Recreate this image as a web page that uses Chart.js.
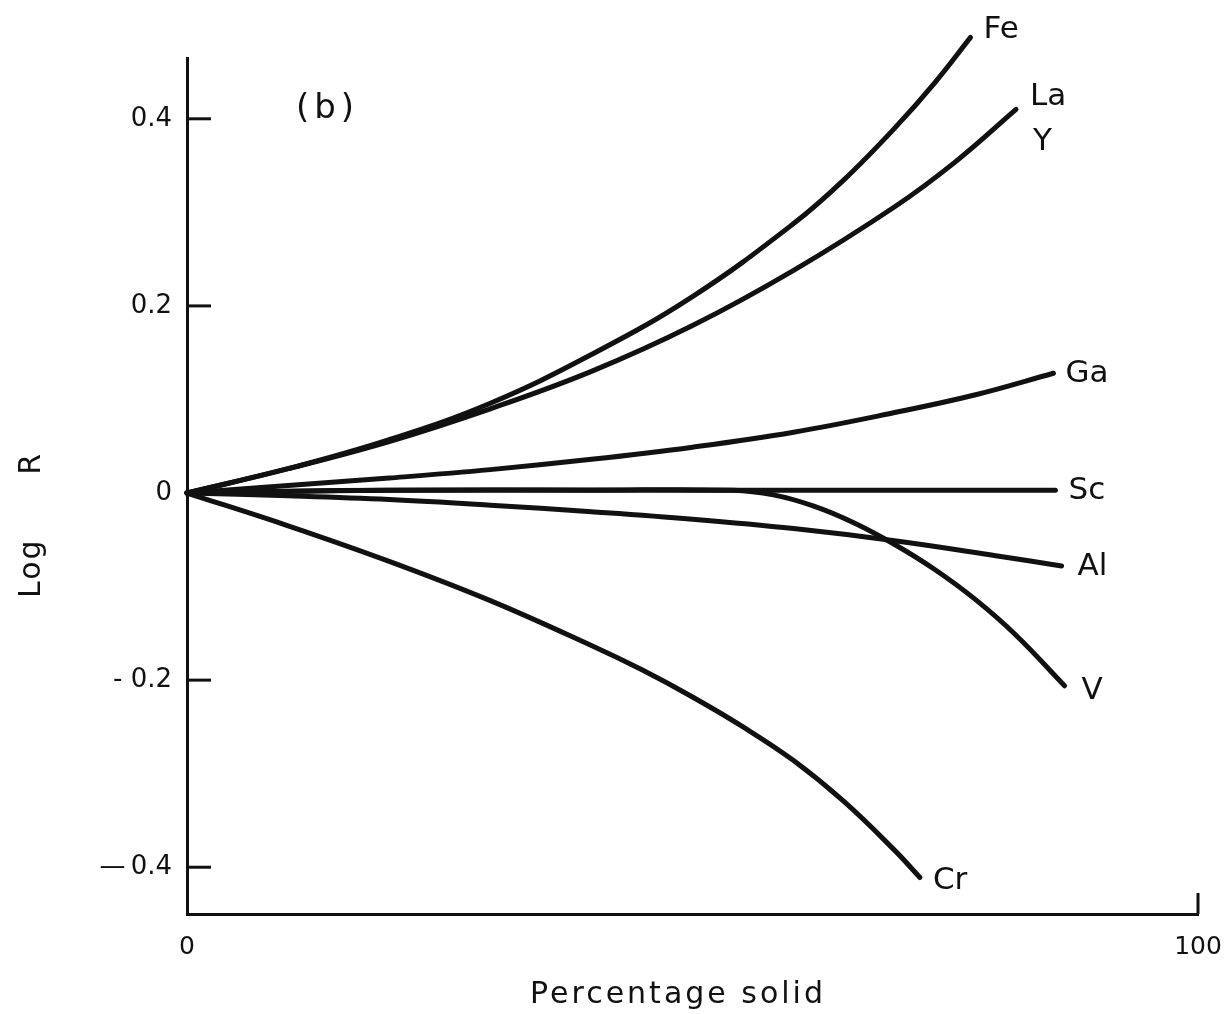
<!DOCTYPE html>
<html>
<head>
<meta charset="utf-8">
<script src="https://cdn.jsdelivr.net/npm/chart.js@4.4.1/dist/chart.umd.min.js"></script>
<style>
  html, body { margin: 0; padding: 0; background: #ffffff; }
  #wrap { width: 1230px; height: 1014px; position: relative; }
</style>
</head>
<body>
<div id="wrap"><canvas id="c" width="1230" height="1014"></canvas></div>
<script>
// Log R against percentage solid, one curve per element
const feX = [0, 10, 20, 30, 40, 50, 60, 65, 70, 74, 77.5];
const feY = [0, 0.026, 0.057, 0.096, 0.148, 0.210, 0.288, 0.335, 0.390, 0.439, 0.487];

const laX = [0, 10, 20, 30, 40, 50, 60, 70, 76, 82];
const laY = [0, 0.026, 0.055, 0.090, 0.130, 0.179, 0.238, 0.306, 0.354, 0.410];

const gaX = [0, 10, 20, 30, 40, 50, 60, 70, 78, 85.7];
const gaY = [0, 0.008, 0.016, 0.025, 0.036, 0.049, 0.065, 0.086, 0.105, 0.128];

const scX = [0, 20, 50, 85.9];
const scY = [0, 0.003, 0.003, 0.003];

const alX = [0, 10, 20, 30, 40, 50, 60, 70, 80, 86.5];
const alY = [0, -0.003, -0.007, -0.013, -0.020, -0.028, -0.038, -0.051, -0.067, -0.078];

const vX = [0, 10, 20, 40, 54, 58, 62, 66, 70, 74, 78, 82, 86.8];
const vY = [0, 0.002, 0.003, 0.003, 0.003, -0.002, -0.014, -0.032, -0.055, -0.082, -0.114, -0.152, -0.206];

const crX = [0, 10, 20, 30, 40, 45, 50, 55, 60, 65, 70, 72.5];
const crY = [0, -0.035, -0.073, -0.115, -0.163, -0.189, -0.218, -0.250, -0.286, -0.330, -0.382, -0.411];

const elements = ['Fe', 'La', 'Ga', 'Sc', 'Al', 'V', 'Cr'];
const seriesX = [feX, laX, gaX, scX, alX, vX, crX];
const seriesY = [feY, laY, gaY, scY, alY, vY, crY];

// end-of-curve labels (La and Y share one curve)
const curveLabels = [['Fe'], ['La', 'Y'], ['Ga'], ['Sc'], ['Al'], ['V'], ['Cr']];

const yTicks = [-0.4, -0.2, 0, 0.2, 0.4];
const yTickLabels = ['\u2014\u20090.4', '- 0.2', '0', '0.2', '0.4'];
const xTicks = [0, 100];
const xTickLabels = ['0', '100'];

const xTitle = 'Percentage solid';
const yTitle = 'Log R';
const panelTag = '(b)';

// drawing style
const ink = '#111111';
const family = '"DejaVu Sans", "Liberation Sans", sans-serif';
const labelNudge = {
  Fe: [[13, -7]],
  La: [[14, -13], [17, 32]],
  Ga: [[12, 1]],
  Sc: [[13, 1]],
  Al: [[16, 1]],
  V:  [[17, 5]],
  Cr: [[13, 3]]
};

const datasets = elements.map((name, i) => ({
  label: name,
  data: seriesX[i].map((xv, j) => ({ x: xv, y: seriesY[i][j] })),
  borderColor: ink,
  borderWidth: 5,
  pointRadius: 0,
  fill: false,
  tension: 0.4,
  clip: false,
  borderCapStyle: 'round',
  borderJoinStyle: 'round'
}));

const annotate = {
  id: 'annotate',
  afterDraw(chart) {
    const { ctx, scales: { x, y } } = chart;
    ctx.save();
    ctx.strokeStyle = ink;
    ctx.fillStyle = ink;
    ctx.lineWidth = 3;

    // inward tick marks
    yTicks.forEach(v => {
      const py = y.getPixelForValue(v);
      ctx.beginPath();
      ctx.moveTo(x.left, py);
      ctx.lineTo(x.left + 24, py);
      ctx.stroke();
    });
    const pEnd = x.getPixelForValue(100);
    ctx.beginPath();
    ctx.moveTo(pEnd, y.bottom);
    ctx.lineTo(pEnd, y.bottom - 21);
    ctx.stroke();

    // curve labels
    ctx.font = '31px ' + family;
    ctx.textAlign = 'left';
    ctx.textBaseline = 'middle';
    elements.forEach((name, i) => {
      const pts = chart.getDatasetMeta(i).data;
      const last = pts[pts.length - 1];
      curveLabels[i].forEach((txt, k) => {
        const [dx, dy] = labelNudge[name][k];
        ctx.fillText(txt, last.x + dx, last.y + dy);
      });
    });

    // panel tag
    ctx.font = '34px ' + family;
    ctx.letterSpacing = '5px';
    ctx.fillText(panelTag, 296, 109);

    // axis titles
    ctx.font = '30px ' + family;
    ctx.letterSpacing = '3px';
    ctx.textAlign = 'center';
    ctx.fillText(xTitle, 678, 995);

    ctx.translate(32, 525);
    ctx.rotate(-Math.PI / 2);
    ctx.letterSpacing = '2px';
    ctx.wordSpacing = '52px';
    ctx.fillText(yTitle, 0, 0);
    ctx.restore();
  }
};

new Chart(document.getElementById('c'), {
  type: 'line',
  data: { datasets },
  plugins: [annotate],
  options: {
    responsive: false,
    devicePixelRatio: 1,
    animation: false,
    layout: { padding: { top: 58, right: 32, left: 0, bottom: 0 } },
    plugins: { legend: { display: false }, tooltip: { enabled: false } },
    scales: {
      x: {
        type: 'linear',
        min: 0,
        max: 100,
        afterFit(s) { s.height = 100; s.paddingLeft = 0; s.paddingRight = 0; },
        afterBuildTicks(s) { s.ticks = xTicks.map(v => ({ value: v })); },
        ticks: {
          autoSkip: false,
          maxRotation: 0,
          padding: 18,
          color: ink,
          font: { family, size: 25 },
          callback: (v) => xTickLabels[xTicks.indexOf(v)]
        },
        grid: { display: false, drawTicks: false },
        border: { display: true, width: 3, color: ink }
      },
      y: {
        type: 'linear',
        min: -0.45,
        max: 0.465,
        afterFit(s) { s.width = 187; s.paddingTop = 0; s.paddingBottom = 0; },
        afterBuildTicks(s) { s.ticks = yTicks.map(v => ({ value: v })); },
        ticks: {
          autoSkip: false,
          padding: 15,
          color: ink,
          font: { family, size: 26 },
          callback: (v) => yTickLabels[yTicks.indexOf(v)]
        },
        grid: { display: false, drawTicks: false },
        border: { display: true, width: 3, color: ink }
      }
    }
  }
});
</script>
</body>
</html>
